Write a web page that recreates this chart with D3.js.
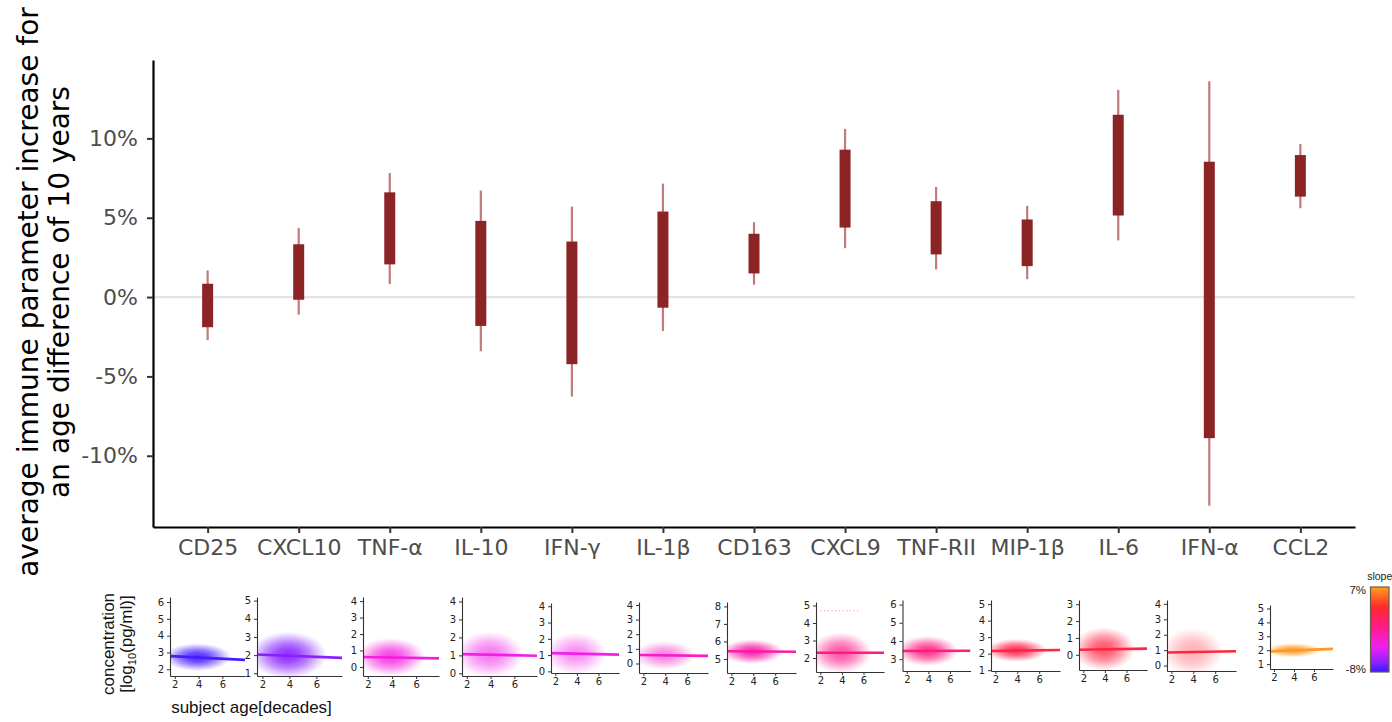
<!DOCTYPE html>
<html>
<head>
<meta charset="utf-8">
<script src="https://cdn.jsdelivr.net/npm/d3@7"></script>
<style>
body { margin: 0; background: #fff; }
svg { display: block; }
</style>
</head>
<body>
<svg width="1392" height="722"></svg>
<script>
// ---- main chart data (percent change per 10 years) ----
const cytokines = ["CD25", "CXCL10", "TNF-α", "IL-10", "IFN-γ", "IL-1β", "CD163",
                   "CXCL9", "TNF-RII", "MIP-1β", "IL-6", "IFN-α", "CCL2"];
const outerLow  = [-2.72, -1.11, 0.82, -3.42, -6.27, -2.14, 0.78, 3.08, 1.74, 1.13, 3.57, -13.15, 5.60];
const innerLow  = [-1.90, -0.17, 2.06, -1.82, -4.23, -0.67, 1.49, 4.38, 2.69, 1.95, 5.14, -8.89, 6.33];
const innerHigh = [ 0.84,  3.33, 6.60,  4.80,  3.50,  5.39, 3.99, 9.29, 6.04, 4.89, 11.49, 8.53, 8.95];
const outerHigh = [ 1.68,  4.36, 7.82,  6.71,  5.70,  7.15, 4.72, 10.60, 6.94, 5.75, 13.06, 13.60, 9.65];
const yTickValues = [-10, -5, 0, 5, 10];

// ---- small panels: log10 concentration vs age (decades) ----
const ageTicks = [2, 4, 6];
const ageDomain = [1.6, 7.9];
const ageMean = 3.9;
const ageSpread = 1.2;
const fitStart = [2.78, 2.03, 0.60, 1.07, 1.12, 0.58, 5.44, 2.30, 3.45, 2.16, 0.30, 0.85, 1.92];
const fitEnd   = [2.56, 1.85, 0.52, 0.98, 1.03, 0.52, 5.41, 2.30, 3.46, 2.22, 0.37, 0.93, 2.10];
const cloudMean   = [2.72, 2.00, 0.60, 1.05, 1.10, 0.55, 5.42, 2.30, 3.45, 2.20, 0.35, 0.90, 2.00];
const cloudSpread = [0.32, 0.50, 0.45, 0.50, 0.50, 0.38, 0.27, 0.45, 0.32, 0.27, 0.50, 0.60, 0.20];
const cloudDensity = [1, 1, 0.9, 0.65, 0.55, 0.6, 1, 0.8, 0.95, 1, 0.85, 0.4, 1];
const ceilingRow = [null, null, null, null, null, null, null, 4.7, null, null, null, null, null];
const miniYTicks = [[2,3,4,5,6],[1,2,3,4,5],[0,1,2,3,4],[0,1,2,3,4],[0,1,2,3,4],[0,1,2,3,4],
                    [5,6,7,8],[2,3,4,5],[3,4,5,6],[1,2,3,4,5],[0,1,2,3],[0,1,2,3,4],[1,2,3,4,5]];
const miniYDomain = [[1.6,6.3],[0.85,5.2],[-0.55,4.25],[-0.15,4.25],[-0.1,4.2],[-0.65,4.2],
                     [4.2,8.25],[1.2,5.2],[2.35,6.25],[0.95,5.25],[-0.9,3.25],[-0.35,4.25],[0.65,5.25]];
const slopeDomain = [-8, 7];

// ---- layout of the small panels: [left, top, width, bottom] ----
const panelBox = [
  [170, 597, 75, 676], [257, 597, 85, 676], [363, 597, 76, 676], [462, 597, 75, 676],
  [551, 603, 68, 673], [639, 602, 69, 673], [727, 602, 69, 673], [816, 602, 68, 672],
  [902.5, 600, 68, 671], [991, 600, 69, 671], [1079, 600, 68, 670], [1167, 600, 69, 671],
  [1270, 605, 63, 669]
];

const svg = d3.select("svg");
const defs = svg.append("defs");

const slopeColor = d3.scaleLinear()
  .domain([-8, -6, -3.5, 0, 3.5, 7])
  .range(["#3a1cff", "#9a22ff", "#f020f0", "#ff1a88", "#ff2a2a", "#ffa020"])
  .clamp(true);

// ================= main chart =================
const x = d3.scalePoint().domain(cytokines).range([153, 1355]).padding(0.6);
const y = d3.scaleLinear().domain([-14.49, 14.94]).range([527, 60]);

svg.append("line")
  .attr("x1", 153).attr("x2", 1355)
  .attr("y1", y(0)).attr("y2", y(0))
  .attr("stroke", "#e4e4e4")
  .attr("stroke-width", 2.2);

svg.selectAll(".whisker")
  .data(cytokines)
  .enter().append("line")
  .attr("class", "whisker")
  .attr("x1", d => x(d)).attr("x2", d => x(d))
  .attr("y1", (d, i) => y(outerLow[i]))
  .attr("y2", (d, i) => y(outerHigh[i]))
  .attr("stroke", "#c27a7a")
  .attr("stroke-width", 2.2);

svg.selectAll(".bar")
  .data(cytokines)
  .enter().append("rect")
  .attr("class", "bar")
  .attr("x", d => x(d) - 5.5)
  .attr("width", 11)
  .attr("y", (d, i) => y(innerHigh[i]))
  .attr("height", (d, i) => y(innerLow[i]) - y(innerHigh[i]))
  .attr("fill", "#8c2426");

const yAxis = svg.append("g")
  .attr("transform", "translate(153,0)")
  .call(d3.axisLeft(y).tickValues(yTickValues).tickFormat(d => d + "%")
        .tickSize(6).tickSizeOuter(0).tickPadding(9));

const xAxis = svg.append("g")
  .attr("transform", "translate(0,527)")
  .call(d3.axisBottom(x).tickSize(6).tickSizeOuter(0).tickPadding(6));

[yAxis, xAxis].forEach(ax => {
  ax.select(".domain").attr("stroke", "#000").attr("stroke-width", 2.2);
  ax.selectAll(".tick line").attr("stroke", "#333").attr("stroke-width", 2);
  ax.selectAll(".tick text")
    .attr("fill", "#4d4d4d")
    .style("font-family", "DejaVu Sans")
    .style("font-size", "22px");
});

const titleLines = ["average immune parameter increase for", "an age difference of 10 years"];
svg.selectAll(".ytitle")
  .data(titleLines)
  .enter().append("text")
  .attr("class", "ytitle")
  .attr("transform", (d, i) => `translate(${37.5 + i * 31},292) rotate(-90)`)
  .attr("text-anchor", "middle")
  .style("font-family", "DejaVu Sans")
  .style("font-size", "28px")
  .attr("fill", "#000")
  .text(d => d);

// ================= small panels =================
cytokines.forEach((name, i) => {
  const [left, top, w, bottom] = panelBox[i];
  const xs = d3.scaleLinear().domain(ageDomain).range([left, left + w]);
  const ys = d3.scaleLinear().domain(miniYDomain[i]).range([bottom, top]);
  const pct = (Math.pow(10, (fitEnd[i] - fitStart[i]) / (ageDomain[1] - ageDomain[0])) - 1) * 100;
  const col = slopeColor(pct);

  const clipId = "clip" + i;
  defs.append("clipPath").attr("id", clipId)
    .append("rect").attr("x", left).attr("y", top).attr("width", w).attr("height", bottom - top);

  const gradId = "cloud" + i;
  const grad = defs.append("radialGradient").attr("id", gradId);
  const dens = cloudDensity[i];
  [[0, 0.95], [0.3, 0.8], [0.55, 0.55], [0.78, 0.25], [0.92, 0.08], [1, 0]].forEach(([o, a]) => {
    grad.append("stop").attr("offset", o).attr("stop-color", col).attr("stop-opacity", a * dens);
  });

  const g = svg.append("g");
  const inner = g.append("g").attr("clip-path", `url(#${clipId})`);

  inner.append("ellipse")
    .attr("cx", xs(ageMean))
    .attr("cy", ys(cloudMean[i]))
    .attr("rx", xs(ageMean + 2.4 * ageSpread) - xs(ageMean))
    .attr("ry", ys(cloudMean[i]) - ys(cloudMean[i] + 2.6 * cloudSpread[i]))
    .attr("fill", `url(#${gradId})`);

  if (ceilingRow[i] !== null) {
    inner.append("line")
      .attr("x1", xs(2)).attr("x2", xs(5.8))
      .attr("y1", ys(ceilingRow[i])).attr("y2", ys(ceilingRow[i]))
      .attr("stroke", col).attr("stroke-opacity", 0.5)
      .attr("stroke-width", 1.2).attr("stroke-dasharray", "1.2,2.5");
  }

  inner.append("line")
    .attr("x1", xs(ageDomain[0])).attr("y1", ys(fitStart[i]))
    .attr("x2", xs(ageDomain[1])).attr("y2", ys(fitEnd[i]))
    .attr("stroke", col)
    .attr("stroke-width", 2.6);

  const ya = g.append("g").attr("transform", `translate(${left},0)`)
    .call(d3.axisLeft(ys).tickValues(miniYTicks[i]).tickFormat(d3.format("d"))
          .tickSize(3).tickSizeOuter(0).tickPadding(3));
  const xa = g.append("g").attr("transform", `translate(0,${bottom})`)
    .call(d3.axisBottom(xs).tickValues(ageTicks).tickFormat(d3.format("d"))
          .tickSize(3).tickSizeOuter(0).tickPadding(2));
  [ya, xa].forEach(ax => {
    ax.select(".domain").attr("stroke", "#333").attr("stroke-width", 1.1);
    ax.selectAll(".tick line").attr("stroke", "#333").attr("stroke-width", 1);
    ax.selectAll(".tick text")
      .attr("fill", "#222")
      .style("font-family", "DejaVu Sans")
      .style("font-size", "10px");
  });
});

// small panel axis titles
svg.append("text")
  .attr("transform", "translate(113.5,644) rotate(-90)")
  .attr("text-anchor", "middle")
  .style("font-family", "Liberation Sans")
  .style("font-size", "17px")
  .attr("fill", "#111")
  .text("concentration");

const unit = svg.append("text")
  .attr("transform", "translate(132,644) rotate(-90)")
  .attr("text-anchor", "middle")
  .style("font-family", "Liberation Sans")
  .style("font-size", "17px")
  .attr("fill", "#111");
unit.append("tspan").text("[log");
unit.append("tspan").attr("dy", 4).style("font-size", "11px").text("10");
unit.append("tspan").attr("dy", -4).text("(pg/ml)]");

svg.append("text")
  .attr("x", 251.5).attr("y", 713)
  .attr("text-anchor", "middle")
  .style("font-family", "Liberation Sans")
  .style("font-size", "17px")
  .attr("fill", "#111")
  .text("subject age[decades]");

// ================= slope legend =================
const legTop = 587, legBottom = 672, legLeft = 1370.5, legW = 18.5;
const legScale = d3.scaleLinear().domain(slopeDomain).range([legBottom, legTop]);
const legGrad = defs.append("linearGradient").attr("id", "slopeGrad")
  .attr("x1", 0).attr("x2", 0).attr("y1", 1).attr("y2", 0);
slopeColor.domain().forEach(v => {
  legGrad.append("stop")
    .attr("offset", (v - slopeDomain[0]) / (slopeDomain[1] - slopeDomain[0]))
    .attr("stop-color", slopeColor(v));
});
svg.append("rect")
  .attr("x", legLeft).attr("y", legScale(slopeDomain[1]))
  .attr("width", legW).attr("height", legScale(slopeDomain[0]) - legScale(slopeDomain[1]))
  .attr("fill", "url(#slopeGrad)")
  .attr("stroke", "#6b5a4a").attr("stroke-width", 1.2);

svg.selectAll(".legLabel")
  .data(slopeDomain)
  .enter().append("text")
  .attr("class", "legLabel")
  .attr("x", legLeft - 4.5)
  .attr("y", d => legScale(d) + (d > 0 ? 3 : -3))
  .attr("dy", "0.35em")
  .attr("text-anchor", "end")
  .style("font-family", "Liberation Sans")
  .style("font-size", "11.5px")
  .attr("fill", "#222")
  .text(d => d + "%");

svg.append("text")
  .attr("x", legLeft + legW / 2).attr("y", 580)
  .attr("text-anchor", "middle")
  .style("font-family", "Liberation Sans")
  .style("font-size", "10.5px")
  .attr("fill", "#222")
  .text("slope");
</script>
</body>
</html>
